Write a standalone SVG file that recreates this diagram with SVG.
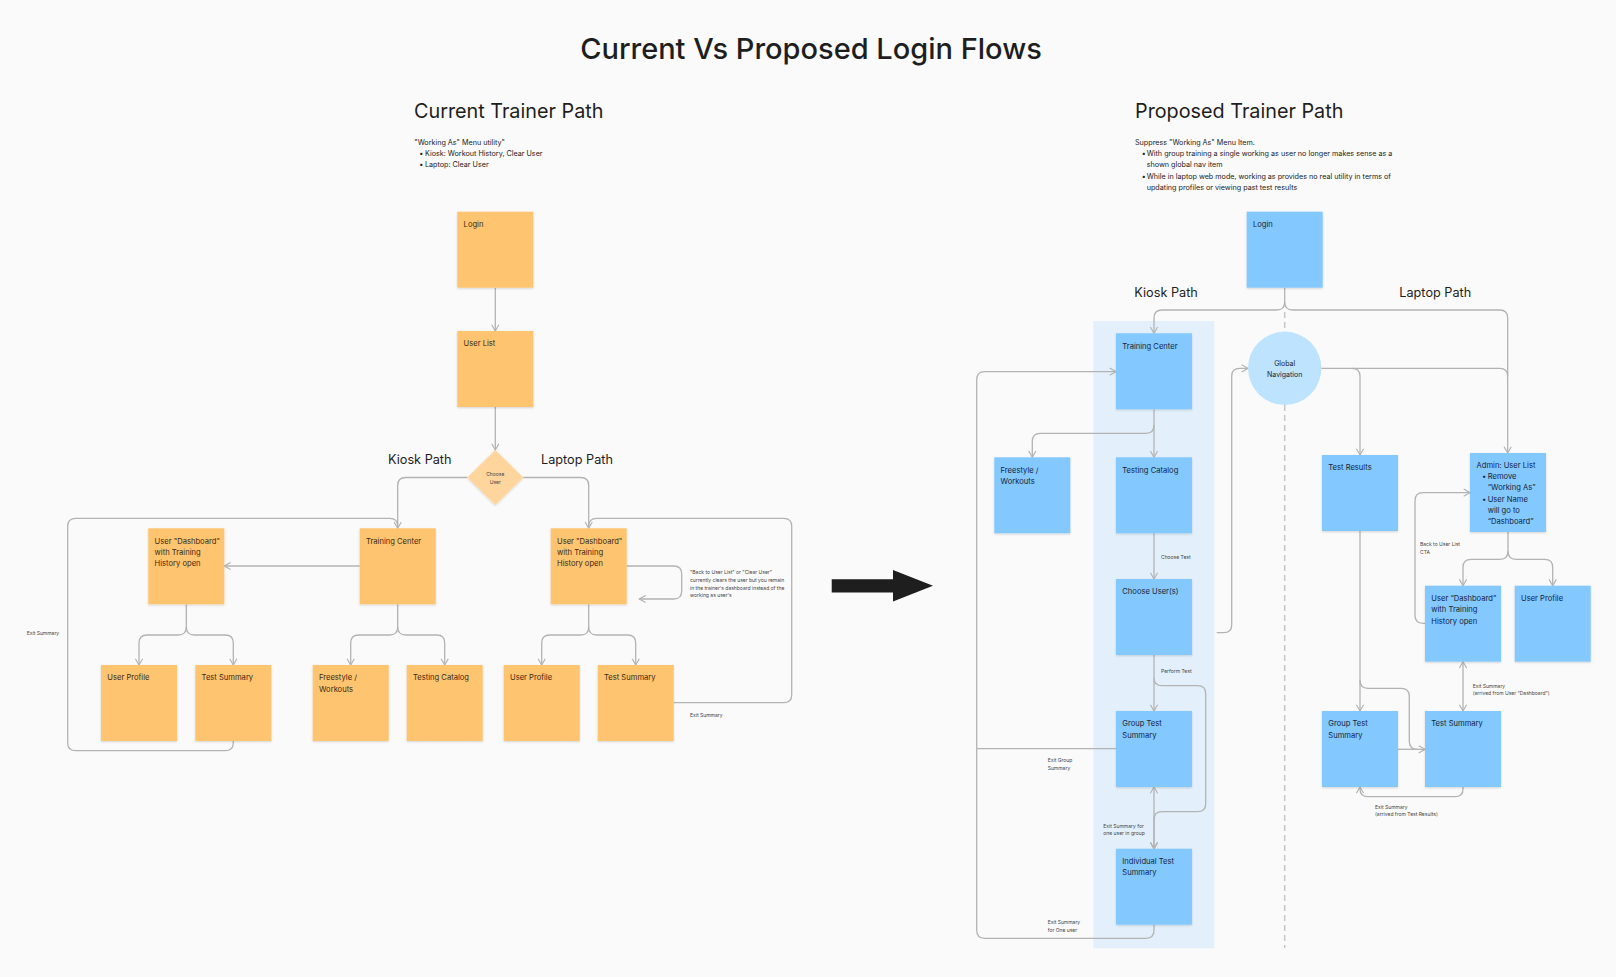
<svg xmlns="http://www.w3.org/2000/svg" width="1616" height="977" viewBox="0 0 1616 977">
<defs>
<style>
.bg{fill:#FAFAFA}
.o{fill:#FFC470;filter:url(#sh)}
.b{fill:#83C8FF;filter:url(#sh)}
.t{font-family:Inter,"Liberation Sans",sans-serif;fill:#2a2a2a}
.bx{font-size:7.6px;font-weight:400}
.ob{fill:#3a2a12}
.bb{fill:#15263a}
.sm{font-size:5px;fill:#444}
.ds{font-size:7.2px;fill:#222}
.h1{font-size:29px;font-weight:500;fill:#1e1e1e}
.h2{font-size:19.8px;font-weight:400;fill:#1e1e1e}
.h3{font-size:12.7px;font-weight:400;fill:#1e1e1e}
.c{fill:none;stroke:#B3B3B3;stroke-width:1.3;stroke-linejoin:round}
.a{marker-end:url(#arr)}
.a2{marker-end:url(#arr);marker-start:url(#arr)}
</style>
<marker id="arr" viewBox="0 0 10 10" refX="9" refY="5" markerWidth="9" markerHeight="9" markerUnits="userSpaceOnUse" orient="auto-start-reverse">
<path d="M2,1 L9,5 L2,9" fill="none" stroke="#B3B3B3" stroke-width="1.3"/>
</marker>
<filter id="sh" x="-10%" y="-10%" width="120%" height="125%">
<feDropShadow dx="0" dy="1" stdDeviation="0.8" flood-color="#000" flood-opacity="0.15"/>
</filter>
</defs>
<rect class="bg" x="0" y="0" width="1616" height="977"/>

<!-- titles -->
<text class="t h1" x="811" y="59" text-anchor="middle">Current Vs Proposed Login Flows</text>
<text class="t h2" x="414" y="117.5">Current Trainer Path</text>
<text class="t ds" x="414.3" y="145">"Working As" Menu utility"</text>
<text class="t ds" x="419.3" y="155.7">•</text><text class="t ds" x="425" y="155.7">Kiosk: Workout History, Clear User</text>
<text class="t ds" x="419.3" y="166.7">•</text><text class="t ds" x="425" y="166.7">Laptop: Clear User</text>

<text class="t h2" x="1135" y="117.5">Proposed Trainer Path</text>
<text class="t ds" x="1135" y="145">Suppress "Working As" Menu Item.</text>
<text class="t ds" x="1141.7" y="156">•</text><text class="t ds" x="1146.7" y="156">With group training a single working as user no longer makes sense as a</text>
<text class="t ds" x="1146.7" y="166.8">shown global nav item</text>
<text class="t ds" x="1141.7" y="179.4">•</text><text class="t ds" x="1146.7" y="179.4">While in laptop web mode, working as provides no real utility in terms of</text>
<text class="t ds" x="1146.7" y="190.4">updating profiles or viewing past test results</text>

<text class="t h3" x="388" y="464">Kiosk Path</text>
<text class="t h3" x="541" y="464">Laptop Path</text>
<text class="t h3" x="1134.3" y="297">Kiosk Path</text>
<text class="t h3" x="1399.3" y="297">Laptop Path</text>

<!-- kiosk band and divider -->
<rect x="1093.3" y="321" width="121" height="627.3" fill="#E3F0FB"/>
<path d="M1284.7,312 V331 M1284.7,405 V948" fill="none" stroke="#C6C6C6" stroke-width="1.5" stroke-dasharray="6 4"/>

<!-- big arrow -->
<path d="M831.7,579.2 H893 V570 L933,585.8 L893,601.5 V592.6 H831.7 Z" fill="#1e1e1e"/>

<!-- connectors -->
<g id="connectors">
<!-- current -->
<path class="c a" d="M495.3,287.7 V331"/>
<path class="c a" d="M495.3,407 V450"/>
<path class="c a" d="M467.3,477.5 H405.7 Q397.7,477.5 397.7,485.5 V528.3"/>
<path class="c a" d="M523.3,477.5 H580.7 Q588.7,477.5 588.7,485.5 V528.3"/>
<path class="c a" d="M359.7,566 H224.3"/>
<path class="c a" d="M186.3,604.3 V627 Q186.3,635 178.3,635 H147 Q139,635 139,643 V665"/>
<path class="c a" d="M186.3,627 Q186.3,635 194.3,635 H225.3 Q233.3,635 233.3,643 V665"/>
<path class="c a" d="M397.7,604.3 V627 Q397.7,635 389.7,635 H358.7 Q350.7,635 350.7,643 V665"/>
<path class="c a" d="M397.7,627 Q397.7,635 405.7,635 H436.7 Q444.7,635 444.7,643 V665"/>
<path class="c a" d="M588.7,604.3 V627 Q588.7,635 580.7,635 H549.7 Q541.7,635 541.7,643 V665"/>
<path class="c a" d="M588.7,627 Q588.7,635 596.7,635 H627.7 Q635.7,635 635.7,643 V665"/>
<path class="c a" d="M626.7,566 H673.7 Q681.7,566 681.7,574 V591 Q681.7,599 673.7,599 H639.3"/>
<path class="c" d="M233.3,741 V742.7 Q233.3,750.7 225.3,750.7 H75.7 Q67.7,750.7 67.7,742.7 V526.3 Q67.7,518.3 75.7,518.3 H389.7 Q397.7,518.3 397.7,526.3"/>
<path class="c" d="M673.7,702.7 H783.7 Q791.7,702.7 791.7,694.7 V526.3 Q791.7,518.3 783.7,518.3 H596.7 Q588.7,518.3 588.7,526.3"/>
<!-- proposed -->
<path class="c a" d="M1284.7,287.7 V302 Q1284.7,310 1276.7,310 H1162 Q1154,310 1154,318 V333.3"/>
<path class="c a" d="M1284.7,302 Q1284.7,310 1292.7,310 H1499.7 Q1507.7,310 1507.7,318 V453"/>
<path class="c a" d="M1321.3,368.3 H1352 Q1360,368.3 1360,376.3 V455"/>
<path class="c" d="M1352,368.3 H1499.7 Q1507.7,368.3 1507.7,376.3"/>
<path class="c a" d="M1216.7,632.7 H1223.7 Q1231.7,632.7 1231.7,624.7 V376.3 Q1231.7,368.3 1239.7,368.3 H1248"/>
<path class="c a" d="M1154,409.3 V457.3"/>
<path class="c a" d="M1154,425.3 Q1154,433.3 1146,433.3 H1040.3 Q1032.3,433.3 1032.3,441.3 V457.3"/>
<path class="c a" d="M1154,533.3 V579"/>
<path class="c a" d="M1154,655 V711"/>
<path class="c a" d="M1154,677.7 Q1154,685.7 1162,685.7 H1197.7 Q1205.7,685.7 1205.7,693.7 V803.7 Q1205.7,811.7 1197.7,811.7 H1162 Q1154,811.7 1154,819.7 V848.7"/>
<path class="c a2" d="M1154,787 V848.7"/>
<path class="c" d="M1116,748.7 H976.7"/>
<path class="c a" d="M1154,924.7 V930.3 Q1154,938.3 1146,938.3 H984.7 Q976.7,938.3 976.7,930.3 V379.7 Q976.7,371.7 984.7,371.7 H1116"/>
<path class="c a" d="M1508,532 V551.3 Q1508,559.3 1500,559.3 H1471 Q1463,559.3 1463,567.3 V585.7"/>
<path class="c a" d="M1508,551.3 Q1508,559.3 1516,559.3 H1544.7 Q1552.7,559.3 1552.7,567.3 V585.7"/>
<path class="c a" d="M1425,623.3 H1423 Q1415,623.3 1415,615.3 V500.7 Q1415,492.7 1423,492.7 H1470"/>
<path class="c a2" d="M1463,661.7 V711"/>
<path class="c a" d="M1360,531 V711"/>
<path class="c" d="M1360,680.3 Q1360,688.3 1368,688.3 H1401.3 Q1409.3,688.3 1409.3,696.3 V741.3 Q1409.3,749.3 1417.3,749.3"/>
<path class="c a" d="M1398,749.3 H1425"/>
<path class="c a" d="M1463,787 V788.7 Q1463,796.7 1455,796.7 H1368 Q1360,796.7 1360,788.7 V787"/>
</g>

<!-- connector labels -->
<g id="labels">
<text class="t sm" x="26.7" y="634.8">Exit Summary</text>
<text class="t sm" x="690" y="716.8">Exit Summary</text>
<text class="t sm" x="690" y="573.5">"Back to User List" or "Clear User"</text>
<text class="t sm" x="690" y="582.1">currently clears the user but you remain</text>
<text class="t sm" x="690" y="589.8">in the trainer's dashboard instead of the</text>
<text class="t sm" x="690" y="597.1">working as user's</text>
<text class="t sm" x="1161" y="559.1">Choose Test</text>
<text class="t sm" x="1161" y="672.8">Perform Test</text>
<text class="t sm" x="1047.7" y="761.8">Exit Group</text>
<text class="t sm" x="1047.7" y="769.5">Summary</text>
<text class="t sm" x="1103.3" y="827.8">Exit Summary for</text>
<text class="t sm" x="1103.3" y="835.1">one user in group</text>
<text class="t sm" x="1047.7" y="924.1">Exit Summary</text>
<text class="t sm" x="1047.7" y="931.8">for One user</text>
<text class="t sm" x="1420" y="546.1">Back to User List</text>
<text class="t sm" x="1420" y="553.8">CTA</text>
<text class="t sm" x="1472.7" y="687.8">Exit Summary</text>
<text class="t sm" x="1472.7" y="695.1">(arrived from User “Dashboard”)</text>
<text class="t sm" x="1375" y="808.5">Exit Summary</text>
<text class="t sm" x="1375" y="815.8">(arrived from Test Results)</text>
</g>

<!-- current nodes -->
<g id="c-login"><rect class="o" x="457.3" y="211.7" width="76" height="76"/><text class="t bx ob" x="463.6" y="226.9">Login</text></g>
<g id="c-userlist"><rect class="o" x="457.3" y="331" width="76" height="76"/><text class="t bx ob" x="463.6" y="346.2">User List</text></g>
<g id="c-choose"><path d="M495.3,450 L523.3,477.5 L495.3,505 L467.3,477.5 Z" fill="#FFD59E" filter="url(#sh)"/><text class="t sm" x="495.3" y="475.8" text-anchor="middle" fill="#3a2a12">Choose</text><text class="t sm" x="495.3" y="483.5" text-anchor="middle" fill="#3a2a12">User</text></g>
<g id="c-dash-k"><rect class="o" x="148.3" y="528.3" width="76" height="76"/><text class="t bx ob" x="154.6" y="543.5">User "Dashboard"</text><text class="t bx ob" x="154.6" y="554.8">with Training</text><text class="t bx ob" x="154.6" y="566.1">History open</text></g>
<g id="c-training"><rect class="o" x="359.7" y="528.3" width="76" height="76"/><text class="t bx ob" x="366" y="543.5">Training Center</text></g>
<g id="c-dash-l"><rect class="o" x="550.7" y="528.3" width="76" height="76"/><text class="t bx ob" x="557" y="543.5">User "Dashboard"</text><text class="t bx ob" x="557" y="554.8">with Training</text><text class="t bx ob" x="557" y="566.1">History open</text></g>
<g id="c-profile-k"><rect class="o" x="101" y="665" width="76" height="76"/><text class="t bx ob" x="107.3" y="680.2">User Profile</text></g>
<g id="c-summary-k"><rect class="o" x="195.3" y="665" width="76" height="76"/><text class="t bx ob" x="201.6" y="680.2">Test Summary</text></g>
<g id="c-freestyle"><rect class="o" x="312.7" y="665" width="76" height="76"/><text class="t bx ob" x="319" y="680.2">Freestyle /</text><text class="t bx ob" x="319" y="691.5">Workouts</text></g>
<g id="c-catalog"><rect class="o" x="406.7" y="665" width="76" height="76"/><text class="t bx ob" x="413" y="680.2">Testing Catalog</text></g>
<g id="c-profile-l"><rect class="o" x="503.7" y="665" width="76" height="76"/><text class="t bx ob" x="510" y="680.2">User Profile</text></g>
<g id="c-summary-l"><rect class="o" x="597.7" y="665" width="76" height="76"/><text class="t bx ob" x="604" y="680.2">Test Summary</text></g>

<!-- proposed nodes -->
<g id="p-login"><rect class="b" x="1246.7" y="211.7" width="76" height="76"/><text class="t bx bb" x="1253" y="226.9">Login</text></g>
<g id="p-nav"><circle cx="1284.7" cy="368.3" r="36.7" fill="#BDE3FF"/><text class="t bb" font-size="7px" x="1284.7" y="365.8" text-anchor="middle">Global</text><text class="t bb" font-size="7px" x="1284.7" y="376.8" text-anchor="middle">Navigation</text></g>
<g id="p-training"><rect class="b" x="1116" y="333.3" width="76" height="76"/><text class="t bx bb" x="1122.3" y="348.5">Training Center</text></g>
<g id="p-freestyle"><rect class="b" x="994.3" y="457.3" width="76" height="76"/><text class="t bx bb" x="1000.6" y="472.5">Freestyle /</text><text class="t bx bb" x="1000.6" y="483.8">Workouts</text></g>
<g id="p-catalog"><rect class="b" x="1116" y="457.3" width="76" height="76"/><text class="t bx bb" x="1122.3" y="472.5">Testing Catalog</text></g>
<g id="p-chooseusers"><rect class="b" x="1116" y="579" width="76" height="76"/><text class="t bx bb" x="1122.3" y="594.2">Choose User(s)</text></g>
<g id="p-group"><rect class="b" x="1116" y="711" width="76" height="76"/><text class="t bx bb" x="1122.3" y="726.2">Group Test</text><text class="t bx bb" x="1122.3" y="737.5">Summary</text></g>
<g id="p-individual"><rect class="b" x="1116" y="848.7" width="76" height="76"/><text class="t bx bb" x="1122.3" y="863.9">Individual Test</text><text class="t bx bb" x="1122.3" y="875.2">Summary</text></g>
<g id="p-results"><rect class="b" x="1322" y="455" width="76" height="76"/><text class="t bx bb" x="1328.3" y="470.2">Test Results</text></g>
<g id="p-admin"><rect class="b" x="1470" y="453" width="76" height="79"/><text class="t bx bb" x="1476.5" y="467.7">Admin: User List</text><text class="t bx bb" x="1482" y="478.7">•</text><text class="t bx bb" x="1487.7" y="478.7">Remove</text><text class="t bx bb" x="1487.7" y="490.2">“Working As”</text><text class="t bx bb" x="1482" y="501.7">•</text><text class="t bx bb" x="1487.7" y="501.7">User Name</text><text class="t bx bb" x="1487.7" y="512.9">will go to</text><text class="t bx bb" x="1487.7" y="524.3">“Dashboard”</text></g>
<g id="p-dash"><rect class="b" x="1425" y="585.7" width="76" height="76"/><text class="t bx bb" x="1431.3" y="600.9">User “Dashboard”</text><text class="t bx bb" x="1431.3" y="612.2">with Training</text><text class="t bx bb" x="1431.3" y="623.5">History open</text></g>
<g id="p-profile"><rect class="b" x="1514.7" y="585.7" width="76" height="76"/><text class="t bx bb" x="1521" y="600.9">User Profile</text></g>
<g id="p-group2"><rect class="b" x="1322" y="711" width="76" height="76"/><text class="t bx bb" x="1328.3" y="726.2">Group Test</text><text class="t bx bb" x="1328.3" y="737.5">Summary</text></g>
<g id="p-summary"><rect class="b" x="1425" y="711" width="76" height="76"/><text class="t bx bb" x="1431.3" y="726.2">Test Summary</text></g>
</svg>
